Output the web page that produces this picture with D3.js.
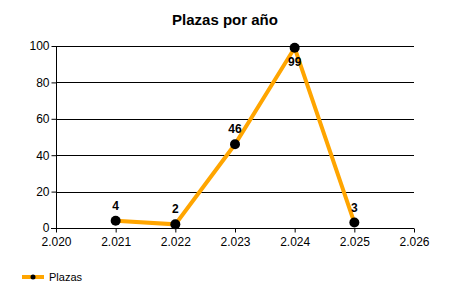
<!DOCTYPE html>
<html><head><meta charset="utf-8">
<script src="https://cdn.jsdelivr.net/npm/d3@7"></script>
<style>body{margin:0;background:#fff}svg{display:block}text{font-family:"Liberation Sans",Arial,sans-serif}</style>
</head><body>
<script>
const years = [2021, 2022, 2023, 2024, 2025];
const values = [4, 2, 46, 99, 3];
const xTicks = [2020, 2021, 2022, 2023, 2024, 2025, 2026];
const yTicks = [0, 20, 40, 60, 80, 100];
const seriesName = "Plazas";
const title = "Plazas por año";

const W = 450, H = 300;
const svg = d3.select("body").append("svg").attr("width", W).attr("height", H);
const x = d3.scaleLinear().domain([2020, 2026]).range([56, 414]);
const y = d3.scaleLinear().domain([0, 100]).range([228, 46]);
const fmt = v => { const s = String(v); return s.slice(0, 1) + "." + s.slice(1); };

svg.append("text").attr("x", 225).attr("y", 25).attr("text-anchor", "middle")
  .attr("font-size", 15).attr("font-weight", "bold").text(title);

// gridlines
svg.append("g").selectAll("line").data(yTicks.filter(d => d > 0)).join("line")
  .attr("x1", 56).attr("x2", 414).attr("y1", d => Math.round(y(d)) + 0.5).attr("y2", d => Math.round(y(d)) + 0.5)
  .attr("stroke", "#000").attr("stroke-width", 1);

const yAxis = svg.append("g").attr("transform", "translate(56.5,0)")
  .call(d3.axisLeft(y).tickValues(yTicks).tickSize(5).tickPadding(2).tickFormat(d3.format("d")));
yAxis.select(".domain").attr("d", `M0,${y(100)}V${y(0)+4}`);
yAxis.selectAll("text").attr("font-size", 12).attr("font-family", "Liberation Sans, Arial, sans-serif").attr("fill", "#000");

const xAxis = svg.append("g").attr("transform", `translate(0,${Math.round(y(0)) + 0.5})`)
  .call(d3.axisBottom(x).tickValues(xTicks).tickSize(4).tickPadding(5).tickFormat(fmt));
xAxis.select(".domain").attr("d", `M${x(2020)-5},0H${x(2026)}`);
xAxis.selectAll("text").attr("font-size", 12).attr("font-family", "Liberation Sans, Arial, sans-serif").attr("fill", "#000");

const pts = years.map((d, i) => [d, values[i]]);
svg.append("path").datum(pts)
  .attr("d", d3.line().x(d => x(d[0])).y(d => y(d[1])))
  .attr("fill", "none").attr("stroke", "#FFA500").attr("stroke-width", 4).attr("stroke-linejoin", "miter");

svg.append("g").selectAll("circle").data(pts).join("circle")
  .attr("cx", d => x(d[0])).attr("cy", d => y(d[1])).attr("r", 5).attr("fill", "#000");

svg.append("g").selectAll("text").data(pts).join("text")
  .attr("x", d => x(d[0])).attr("y", d => d[1] > 90 ? y(d[1]) + 18 : y(d[1]) - 11)
  .attr("text-anchor", "middle").attr("font-size", 12).attr("font-weight", "bold").text(d => d[1]);

// legend
const lg = svg.append("g");
lg.append("line").attr("x1", 22).attr("x2", 44).attr("y1", 277).attr("y2", 277).attr("stroke", "#FFA500").attr("stroke-width", 4);
lg.append("circle").attr("cx", 33).attr("cy", 277).attr("r", 2.5).attr("fill", "#000");
lg.append("text").attr("x", 49).attr("y", 281).attr("font-size", 11).text(seriesName);
</script>
</body></html>
